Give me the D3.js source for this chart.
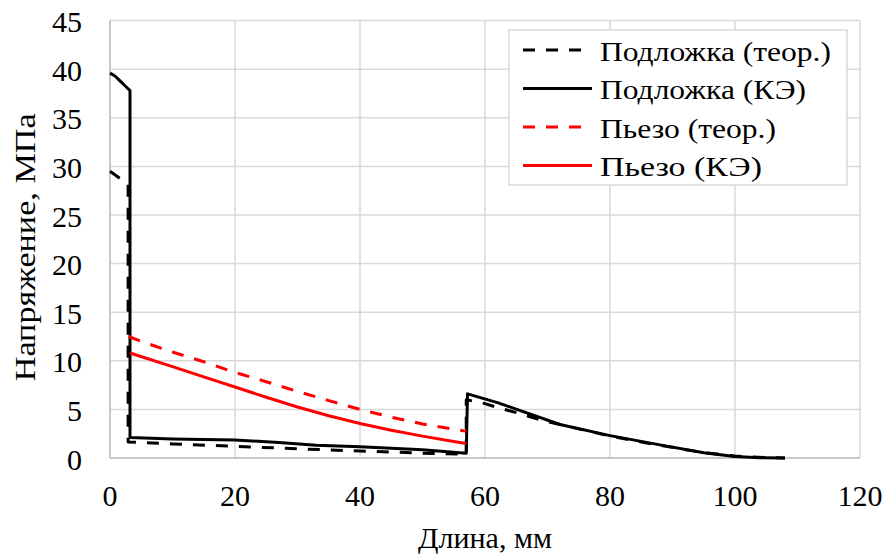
<!DOCTYPE html>
<html>
<head>
<meta charset="utf-8">
<script src="https://cdn.jsdelivr.net/npm/d3@7"></script>
<style>
  html, body { margin: 0; padding: 0; background: #fff; }
  svg { display: block; }
</style>
</head>
<body>
<svg id="chart" width="887" height="557"></svg>
<script>
// ---- data ----
const xTicks = [0, 20, 40, 60, 80, 100, 120];
const yTicks = [0, 5, 10, 15, 20, 25, 30, 35, 40, 45];

const seriesNames = ["Подложка (теор.)", "Подложка (КЭ)", "Пьезо (теор.)", "Пьезо (КЭ)"];

// Подложка (теор.)
const subTheoX = [0, 1.5, 2.9, 2.9, 10, 20, 30, 40, 50, 57, 57, 60, 62, 65.4, 69, 72, 80, 88, 95, 100, 105, 108];
const subTheoY = [29.5, 28.8, 28.2, 1.65, 1.45, 1.2, 0.95, 0.72, 0.5, 0.38, 6.0, 5.6, 5.2, 4.6, 3.9, 3.45, 2.25, 1.3, 0.55, 0.2, 0.05, 0];

// Подложка (КЭ)
const subFEX = [0, 0.8, 1.6, 2.4, 3.2, 3.2, 10, 20, 27, 33, 40, 50, 57, 57.2, 62, 66, 72, 80, 88, 95, 100, 104, 108];
const subFEY = [39.6, 39.3, 38.8, 38.3, 37.8, 2.1, 1.95, 1.85, 1.6, 1.3, 1.15, 0.85, 0.5, 6.6, 5.7, 4.8, 3.45, 2.3, 1.35, 0.55, 0.15, 0.03, 0];

// Пьезо (теор.)
const pzTheoX = [3, 5, 10, 15, 20, 25, 30, 35, 40, 45, 50, 55, 57];
const pzTheoY = [12.5, 12.0, 10.9, 9.9, 8.8, 7.85, 6.85, 5.9, 5.0, 4.2, 3.5, 2.95, 2.75];

// Пьезо (КЭ)
const pzFEX = [3.2, 10, 15, 20, 25, 30, 35, 40, 45, 50, 55, 57];
const pzFEY = [10.8, 9.4, 8.35, 7.3, 6.25, 5.25, 4.35, 3.55, 2.85, 2.25, 1.7, 1.5];

// ---- drawing ----
const FONT = "'Liberation Serif', 'Times New Roman', serif";
const svg = d3.select("#chart");
const L = 110, R = 860, T = 20.6, B = 458;
const x = d3.scaleLinear().domain([0, 120]).range([L, R]);
const y = d3.scaleLinear().domain([0, 45]).range([B, T]);

const gridColor = "#d9d9d9";

// vertical grid
svg.append("g").selectAll("line").data(xTicks).join("line")
  .attr("x1", d => x(d)).attr("x2", d => x(d))
  .attr("y1", T).attr("y2", B)
  .attr("stroke", gridColor).attr("stroke-width", 1.5);
// horizontal grid
svg.append("g").selectAll("line").data(yTicks).join("line")
  .attr("x1", L).attr("x2", R)
  .attr("y1", d => y(d)).attr("y2", d => y(d))
  .attr("stroke", gridColor).attr("stroke-width", 1.5);

// axis lines
svg.append("line").attr("x1", L).attr("x2", R).attr("y1", B).attr("y2", B)
  .attr("stroke", "#bfbfbf").attr("stroke-width", 1.5);
svg.append("line").attr("x1", L).attr("x2", L).attr("y1", T).attr("y2", B)
  .attr("stroke", "#bfbfbf").attr("stroke-width", 1.5);

// tick labels
svg.append("g").selectAll("text").data(xTicks).join("text")
  .attr("x", d => x(d)).attr("y", 506)
  .attr("text-anchor", "middle")
  .style("font-family", FONT)
  .attr("font-size", 30)
  .text(d => d);
svg.append("g").selectAll("text").data(yTicks).join("text")
  .attr("x", 82).attr("y", d => y(d) + 11.5)
  .attr("text-anchor", "end")
  .style("font-family", FONT)
  .attr("font-size", 30)
  .text(d => d);

// axis titles
svg.append("text").attr("x", (L + R) / 2).attr("y", 548)
  .attr("text-anchor", "middle").attr("font-size", 30)
  .style("font-family", FONT)
  .text("Длина, мм");
svg.append("text")
  .attr("transform", `translate(35,${(T + B) / 2 + 8}) rotate(-90)`)
  .attr("text-anchor", "middle").attr("font-size", 30)
  .attr("textLength", 268).attr("lengthAdjust", "spacingAndGlyphs")
  .style("font-family", FONT)
  .text("Напряжение, МПа");

// series
const series = [
  { xs: subTheoX, ys: subTheoY, color: "#000000", dash: "12,11" },
  { xs: subFEX, ys: subFEY, color: "#000000", dash: null },
  { xs: pzTheoX, ys: pzTheoY, color: "#ff0000", dash: "12,11" },
  { xs: pzFEX, ys: pzFEY, color: "#ff0000", dash: null }
];

const line = d3.line().x(d => x(d[0])).y(d => y(d[1])).curve(d3.curveLinear);

const plotG = svg.append("g");
series.forEach(s => {
  const pts = s.xs.map((v, i) => [v, s.ys[i]]);
  plotG.append("path")
    .datum(pts)
    .attr("d", line)
    .attr("fill", "none")
    .attr("stroke", s.color)
    .attr("stroke-width", 3)
    .attr("stroke-linejoin", "round")
    .attr("stroke-dasharray", s.dash);
});

// legend
const lg = svg.append("g");
lg.append("rect").attr("x", 509).attr("y", 30).attr("width", 338).attr("height", 155)
  .attr("fill", "#fff").attr("stroke", gridColor).attr("stroke-width", 1.5);
const rowY = [50, 88.5, 127, 165.5];
const legendTextLen = [231, 206, 176, 162];
series.forEach((s, i) => {
  lg.append("line")
    .attr("x1", 523).attr("x2", s.dash ? 581 : 592)
    .attr("y1", rowY[i]).attr("y2", rowY[i])
    .attr("stroke", s.color).attr("stroke-width", 3)
    .attr("stroke-dasharray", s.dash);
  lg.append("text")
    .attr("x", 600).attr("y", rowY[i] + 10.5)
    .style("font-family", FONT)
    .attr("font-size", 28)
    .attr("textLength", legendTextLen[i]).attr("lengthAdjust", "spacingAndGlyphs")
    .text(seriesNames[i]);
});
</script>
</body>
</html>
